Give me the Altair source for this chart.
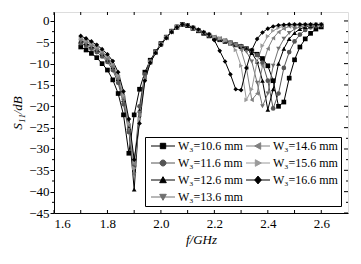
import altair as alt
import pandas as pd

freq = [1.70, 1.72, 1.74, 1.76, 1.78, 1.80, 1.82, 1.84, 1.86, 1.88,
        1.90, 1.92, 1.94, 1.96, 1.98, 2.00, 2.02, 2.04, 2.06, 2.08,
        2.10, 2.12, 2.14, 2.16, 2.18, 2.20, 2.22, 2.24, 2.26, 2.28,
        2.30, 2.32, 2.34, 2.36, 2.38, 2.40, 2.42, 2.44, 2.46, 2.48,
        2.50, 2.52, 2.54, 2.56, 2.58, 2.60]

s_106 = [-6.1, -6.8, -7.6, -8.6, -10.0, -11.5, -13.8, -17.0, -22.0, -31.0,
         -22.0, -16.0, -12.0, -9.2, -7.2, -5.3, -3.8, -2.4, -1.4, -0.8,
         -1.1, -1.7, -2.3, -2.9, -3.5, -4.0, -4.4, -4.8, -5.2, -5.6,
         -6.0, -6.5, -7.0, -7.8, -8.8, -10.5, -14.0, -20.0, -19.0, -13.4,
         -9.1, -6.1, -4.2, -2.9, -1.9, -1.4]
s_116 = [-5.2, -5.8, -6.5, -7.3, -8.3, -9.6, -11.5, -14.5, -19.5, -26.0,
         -34.0, -20.0, -12.5, -9.4, -7.3, -5.4, -3.8, -2.4, -1.4, -0.8,
         -1.1, -1.7, -2.3, -2.9, -3.4, -3.9, -4.3, -4.7, -5.1, -5.5,
         -5.9, -6.4, -7.0, -8.0, -9.8, -14.0, -20.5, -17.0, -11.0, -7.3,
         -4.8, -3.2, -2.1, -1.5, -1.2, -1.0]
s_126 = [-4.6, -5.2, -5.9, -6.7, -7.7, -9.0, -10.8, -13.6, -18.5, -25.0,
         -39.5, -21.0, -13.0, -9.6, -7.4, -5.5, -3.9, -2.5, -1.5, -0.9,
         -1.1, -1.7, -2.2, -2.8, -3.3, -3.8, -4.2, -4.6, -5.0, -5.4,
         -5.9, -6.5, -7.5, -9.5, -14.0, -20.8, -16.0, -10.0, -6.5, -4.2,
         -2.8, -1.9, -1.4, -1.1, -1.0, -0.9]
s_136 = [-4.8, -5.4, -6.1, -6.9, -7.9, -9.2, -11.0, -13.8, -18.8, -25.5,
         -36.0, -21.5, -13.2, -9.7, -7.4, -5.5, -3.9, -2.5, -1.5, -0.9,
         -1.1, -1.6, -2.2, -2.8, -3.3, -3.8, -4.2, -4.6, -5.0, -5.5,
         -6.1, -7.2, -9.5, -14.5, -20.0, -17.0, -10.5, -6.5, -4.2, -2.8,
         -1.9, -1.4, -1.1, -1.0, -0.9, -0.9]
s_146 = [-4.2, -4.8, -5.5, -6.3, -7.3, -8.6, -10.4, -13.2, -18.0, -24.5,
         -33.5, -22.0, -13.5, -9.8, -7.5, -5.6, -4.0, -2.6, -1.5, -0.9,
         -1.0, -1.6, -2.2, -2.7, -3.2, -3.7, -4.1, -4.5, -5.0, -5.6,
         -6.8, -11.0, -18.5, -17.0, -10.5, -6.5, -4.0, -2.6, -1.8, -1.3,
         -1.1, -1.0, -0.9, -0.9, -0.9, -0.9]
s_156 = [-4.0, -4.6, -5.3, -6.1, -7.1, -8.3, -10.0, -12.8, -17.5, -24.0,
         -34.5, -23.0, -13.8, -9.8, -7.5, -5.6, -4.0, -2.6, -1.5, -0.9,
         -1.0, -1.6, -2.1, -2.7, -3.2, -3.7, -4.1, -4.6, -5.3, -6.8,
         -10.5, -18.5, -16.0, -9.5, -5.8, -3.6, -2.3, -1.6, -1.2, -1.0,
         -0.9, -0.9, -0.9, -0.9, -0.9, -0.9]
s_166 = [-3.5, -4.1, -4.8, -5.6, -6.6, -7.8, -9.4, -12.0, -16.5, -23.0,
         -32.5, -24.0, -14.0, -9.8, -7.5, -5.6, -4.0, -2.6, -1.5, -0.8,
         -1.0, -1.5, -2.0, -2.6, -3.1, -4.5, -7.0, -9.5, -12.5, -16.0,
         -16.2, -11.0, -6.8, -4.2, -2.7, -1.8, -1.3, -1.0, -0.9, -0.8,
         -0.8, -0.8, -0.8, -0.8, -0.8, -0.8]

labels = ["W₃=10.6 mm", "W₃=11.6 mm", "W₃=12.6 mm", "W₃=13.6 mm",
          "W₃=14.6 mm", "W₃=15.6 mm", "W₃=16.6 mm"]
series = [s_106, s_116, s_126, s_136, s_146, s_156, s_166]
colors = ["#000000", "#555555", "#000000", "#707070",
          "#808080", "#9a9a9a", "#000000"]
shapes = ["square", "circle", "triangle-up", "triangle-down",
          "triangle-left", "triangle-right", "diamond"]
# legend symbols: a short line with the marker on it
legend_shapes = [
    "M-4,0H4M-0.9,-0.9H0.9V0.9H-0.9Z",
    "M-4,0H4M1,0A1,1,0,1,1,-1,0A1,1,0,1,1,1,0Z",
    "M-4,0H4M0,-1.1L1.1,0.9H-1.1Z",
    "M-4,0H4M0,1.1L1.1,-0.9H-1.1Z",
    "M-4,0H4M-1.1,0L0.9,-1.1V1.1Z",
    "M-4,0H4M1.1,0L-0.9,-1.1V1.1Z",
    "M-4,0H4M0,-1.3L1.1,0L0,1.3L-1.1,0Z",
]

x_label_values = [1.6, 1.8, 2.0, 2.2, 2.4, 2.6]
x_tick_values = [1.6, 1.7, 1.8, 1.9, 2.0, 2.1, 2.2, 2.3, 2.4, 2.5, 2.6]
y_major_values = [-45, -40, -35, -30, -25, -20, -15, -10, -5, 0]
y_minor_values = [-42.5, -37.5, -32.5, -27.5, -22.5, -17.5, -12.5, -7.5, -2.5]

rows = []
for lab, vals in zip(labels, series):
    for f, v in zip(freq, vals):
        rows.append({"f": f, "s11": v, "series": lab})
df = pd.DataFrame(rows)
legend_df = pd.DataFrame({"lseries": labels})
xt_df = pd.DataFrame({"f": x_tick_values})
ymaj_df = pd.DataFrame({"s11": y_major_values})
ymin_df = pd.DataFrame({"s11": y_minor_values})

SERIF = "Liberation Serif"
W, H = 294, 201

x_scale = alt.Scale(domain=[1.6, 2.7], nice=False)
y_scale = alt.Scale(domain=[-45, 2.1], nice=False)

x_axis = alt.Axis(values=x_label_values, format=".1f",
                  title="f/GHz", grid=False, ticks=False,
                  labelOverlap=False,
                  labelFont=SERIF, labelFontSize=13,
                  titleFont=SERIF, titleFontSize=13,
                  titleFontWeight="normal", titleFontStyle="italic",
                  labelColor="black", titleColor="black",
                  domainColor="black", labelPadding=4, titlePadding=3)
y_axis = alt.Axis(values=y_major_values, title="S₁₁/dB",
                  grid=False, tickSize=4, labelOverlap=False,
                  labelFont=SERIF, labelFontSize=13,
                  titleFont=SERIF, titleFontSize=13,
                  titleFontWeight="normal", titleFontStyle="italic",
                  labelColor="black", titleColor="black",
                  domainColor="black", tickColor="black",
                  labelPadding=1, titlePadding=4)
x_enc = alt.X("f:Q", scale=x_scale, axis=x_axis)
y_enc = alt.Y("s11:Q", scale=y_scale, axis=y_axis)

color_enc = alt.Color("series:N", scale=alt.Scale(domain=labels, range=colors),
                      legend=None)
shape_enc = alt.Shape("series:N", scale=alt.Scale(domain=labels, range=shapes),
                      legend=None)

lines = alt.Chart(df).mark_line(strokeWidth=1).encode(
    x=x_enc, y=y_enc, color=color_enc, detail="series:N")
points = alt.Chart(df).mark_point(filled=True, size=22, opacity=1).encode(
    x=x_enc, y=y_enc, color=color_enc, shape=shape_enc)

# inward ticks on the bottom/top, mirrored ticks on the right, minor ticks left
tick_bottom = alt.Chart(xt_df).mark_rule(color="black", strokeWidth=1).encode(
    x=x_enc, y=alt.value(H), y2=alt.value(H - 3))
tick_top = alt.Chart(xt_df).mark_rule(color="black", strokeWidth=1).encode(
    x=x_enc, y=alt.value(0), y2=alt.value(3))
tick_right_major = alt.Chart(ymaj_df).mark_rule(color="black", strokeWidth=1).encode(
    y=y_enc, x=alt.value(W), x2=alt.value(W - 4))
tick_right_minor = alt.Chart(ymin_df).mark_rule(color="black", strokeWidth=1).encode(
    y=y_enc, x=alt.value(W), x2=alt.value(W - 2))
tick_left_minor = alt.Chart(ymin_df).mark_rule(color="black", strokeWidth=1).encode(
    y=y_enc, x=alt.value(0), x2=alt.value(-2))

leg = alt.Legend(title=None, columns=2, orient="bottom-right", offset=7,
                 strokeColor="black", padding=3, fillColor="white",
                 labelFont=SERIF, labelFontSize=12, symbolSize=36,
                 symbolStrokeWidth=1, symbolOffset=9, labelOffset=9,
                 rowPadding=5, columnPadding=0, labelLimit=200)
legend_layer = alt.Chart(legend_df).transform_filter("false").mark_point(
    filled=True, strokeWidth=1, opacity=1).encode(
    color=alt.Color("lseries:N", scale=alt.Scale(domain=labels, range=colors),
                    legend=leg),
    stroke=alt.Stroke("lseries:N", scale=alt.Scale(domain=labels, range=colors),
                      legend=leg),
    shape=alt.Shape("lseries:N", scale=alt.Scale(domain=labels, range=legend_shapes),
                    legend=leg),
)

chart = alt.layer(lines, points, tick_bottom, tick_top, tick_right_major,
                  tick_right_minor, tick_left_minor, legend_layer).resolve_scale(
    color="independent", shape="independent", stroke="independent"
).properties(
    width=W, height=H,
    autosize=alt.AutoSizeParams(type="none"),
    padding={"left": 54, "top": 12, "right": 13, "bottom": 51},
).configure_view(stroke="black", strokeWidth=1).configure(background="white")

chart.save("out.html", embed_options={"renderer": "svg", "actions": False})
